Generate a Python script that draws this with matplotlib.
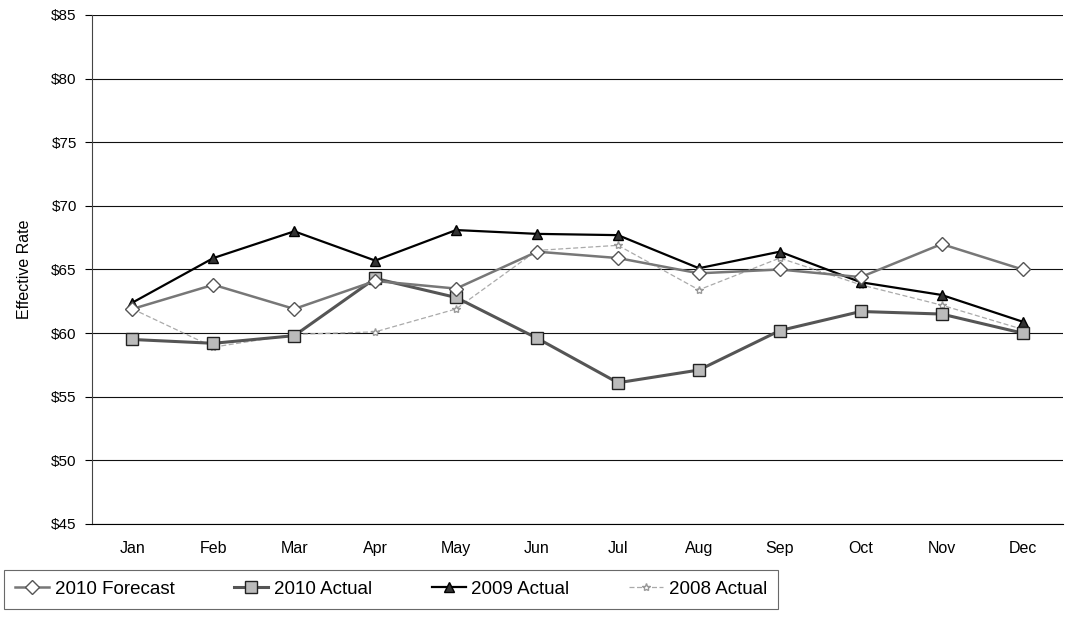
import matplotlib.pyplot as plt

plt.rcParams["font.family"] = ["Liberation Sans", "DejaVu Sans"]

months = ["Jan", "Feb", "Mar", "Apr", "May", "Jun", "Jul", "Aug", "Sep", "Oct", "Nov", "Dec"]
forecast_2010 = [61.9, 63.8, 61.9, 64.1, 63.5, 66.4, 65.9, 64.7, 65.0, 64.4, 67.0, 65.0]
actual_2010 = [59.5, 59.2, 59.8, 64.3, 62.8, 59.6, 56.1, 57.1, 60.2, 61.7, 61.5, 60.0]
actual_2009 = [62.4, 65.9, 68.0, 65.7, 68.1, 67.8, 67.7, 65.1, 66.4, 64.0, 63.0, 60.9]
actual_2008 = [61.9, 58.9, 59.9, 60.1, 61.9, 66.5, 66.9, 63.4, 65.9, 63.8, 62.2, 60.3]
y_ticks = [45, 50, 55, 60, 65, 70, 75, 80, 85]

fig = plt.figure(figsize=(10.65, 6.28), dpi=100)
ax = fig.add_axes([92 / 1065, 1 - 524 / 628, (1063 - 92) / 1065, (524 - 15) / 628])

x = range(len(months))
ax.plot(x, actual_2008, color="#aaaaaa", lw=0.9, ls=(0, (4, 2)), marker="*",
        ms=6, mfc="white", mec="#999999", label="2008 Actual", zorder=2)
ax.plot(x, actual_2009, color="black", lw=1.6, marker="^", ms=7,
        mfc="#333333", mec="black", label="2009 Actual", zorder=3)
ax.plot(x, actual_2010, color="#555555", lw=2.2, marker="s", ms=9,
        mfc="#bbbbbb", mec="#222222", label="2010 Actual", zorder=4)
ax.plot(x, forecast_2010, color="#777777", lw=1.8, marker="D", ms=7,
        mfc="white", mec="#555555", label="2010 Forecast", zorder=5)

ax.set_xlim(-0.5, len(months) - 0.5)
ax.set_ylim(45, 85)
ax.set_yticks(y_ticks)
ax.set_yticklabels([f"${v}" for v in y_ticks], fontsize=11)
ax.set_xticks(list(x))
ax.set_xticklabels(months, fontsize=11.5)
ax.tick_params(axis="x", length=0, pad=12)
ax.tick_params(axis="y", length=5, pad=6)
ax.yaxis.grid(True, color="#111111", lw=0.8)
ax.set_axisbelow(True)
for s in ["top", "right"]:
    ax.spines[s].set_visible(False)
ax.spines["left"].set_color("#444444")
ax.set_ylabel("Effective Rate", fontsize=11.5, labelpad=14)

handles, labels = ax.get_legend_handles_labels()
order = [3, 2, 1, 0]
leg = fig.legend([handles[i] for i in order], [labels[i] for i in order],
                 loc="lower left", bbox_to_anchor=(-0.005, 0.015), ncol=4,
                 frameon=True, fancybox=False, edgecolor="#444444",
                 fontsize=13.5, handlelength=1.8, handletextpad=0.3,
                 columnspacing=3.2, borderpad=0.6)
leg.get_frame().set_linewidth(0.8)

fig.savefig("out.png", dpi=100)
